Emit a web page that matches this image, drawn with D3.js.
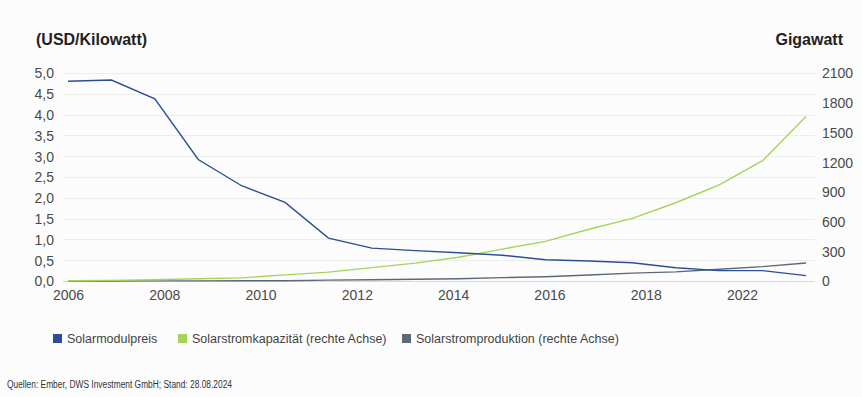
<!DOCTYPE html>
<html>
<head>
<meta charset="utf-8">
<script src="https://cdn.jsdelivr.net/npm/d3@7"></script>
<style>
  body { margin: 0; background: #fcfcfc; }
  svg { display: block; font-family: 'Liberation Sans', Arial, sans-serif; }
  .tick text { fill: #4a4a4a; }
</style>
</head>
<body>
<div id="chart"></div>
<script>
// data, one point per year 2006..2023
var years = d3.range(2006, 2024);
var modulPrice = [4.80, 4.83, 4.38, 2.92, 2.29, 1.89, 1.03, 0.79, 0.73, 0.68, 0.62, 0.51, 0.48, 0.44, 0.32, 0.25, 0.25, 0.13];
var capacity = [3, 6, 13, 22, 32, 62, 90, 135, 180, 240, 322, 400, 522, 632, 790, 970, 1215, 1660];
var production = [0, 0, 1, 1, 2, 3, 9, 12, 18, 23, 34, 43, 61, 80, 92, 118, 145, 182];

// axis labels as printed on the chart
var xTickLabels = ['2006', '2008', '2010', '2012', '2014', '2016', '2018', '2022'];
var leftTicks = d3.range(0, 5.01, 0.5);
var rightTicks = d3.range(0, 2101, 300);

var seriesNames = ['Solarmodulpreis', 'Solarstromkapazität (rechte Achse)', 'Solarstromproduktion (rechte Achse)'];
var colors = ['#2b4f97', '#a6d45a', '#5c6a78'];

var svgWidth = 862;
var svgHeight = 397;

var svg = d3.select('#chart')
    .append('svg')
    .attr('width', svgWidth)
    .attr('height', svgHeight);

// plot area
var plotLeft = 68, plotRight = 806, plotTop = 73, plotBottom = 281;

var xScale = d3.scaleLinear().domain([0, years.length - 1]).range([plotLeft, plotRight]);
var xLabelScale = d3.scalePoint().domain(xTickLabels).range([plotLeft, 742]);
var yLeft = d3.scaleLinear().domain([0, 5]).range([plotBottom, plotTop]);
var yRight = d3.scaleLinear().domain([0, 2100]).range([plotBottom, plotTop]);

// gridlines
svg.append('g')
    .selectAll('line')
    .data(leftTicks)
    .enter()
    .append('line')
    .attr('x1', 63)
    .attr('x2', 815)
    .attr('y1', d => Math.round(yLeft(d)) + 0.5)
    .attr('y2', d => Math.round(yLeft(d)) + 0.5)
    .attr('stroke', d => d === 0 ? '#d9d9d9' : '#ececec')
    .attr('stroke-width', 1);

// left axis
var leftAxis = d3.axisLeft(yLeft)
    .tickValues(leftTicks)
    .tickSize(0)
    .tickPadding(0)
    .tickFormat(d => d3.format('.1f')(d).replace('.', ','));
svg.append('g')
    .attr('transform', 'translate(54,0)')
    .call(leftAxis)
    .call(g => g.select('.domain').remove())
    .selectAll('text')
    .attr('font-size', '14px')
    .attr('dy', '0.35em');

// right axis
var rightAxis = d3.axisRight(yRight)
    .tickValues(rightTicks)
    .tickSize(0)
    .tickPadding(0)
    .tickFormat(d3.format('d'));
svg.append('g')
    .attr('transform', 'translate(822,0)')
    .call(rightAxis)
    .call(g => g.select('.domain').remove())
    .selectAll('text')
    .attr('font-size', '14px')
    .attr('dy', '0.35em');

// bottom axis
var bottomAxis = d3.axisBottom(xLabelScale).tickSize(0).tickPadding(0);
svg.append('g')
    .attr('transform', 'translate(0,' + (plotBottom + 9) + ')')
    .call(bottomAxis)
    .call(g => g.select('.domain').remove())
    .selectAll('text')
    .attr('font-size', '14px')
    .attr('dy', '0.71em');

// lines
var lineLeft = d3.line().x((d, i) => xScale(i)).y(d => yLeft(d));
var lineRight = d3.line().x((d, i) => xScale(i)).y(d => yRight(d));

svg.append('path')
    .datum(production)
    .attr('d', lineRight)
    .attr('fill', 'none')
    .attr('stroke', colors[2])
    .attr('stroke-width', 1.4);

svg.append('path')
    .datum(capacity)
    .attr('d', lineRight)
    .attr('fill', 'none')
    .attr('stroke', colors[1])
    .attr('stroke-width', 1.4);

svg.append('path')
    .datum(modulPrice)
    .attr('d', lineLeft)
    .attr('fill', 'none')
    .attr('stroke', colors[0])
    .attr('stroke-width', 1.4);

// axis titles
svg.append('text')
    .attr('x', 36)
    .attr('y', 45)
    .attr('font-size', '16px')
    .attr('font-weight', 'bold')
    .attr('fill', '#222')
    .text('(USD/Kilowatt)');

svg.append('text')
    .attr('x', 843)
    .attr('y', 45)
    .attr('text-anchor', 'end')
    .attr('font-size', '16px')
    .attr('font-weight', 'bold')
    .attr('fill', '#222')
    .text('Gigawatt');

// legend
var legendX = [53, 178, 402];
var legend = svg.append('g')
    .selectAll('g')
    .data(seriesNames)
    .enter()
    .append('g')
    .attr('transform', (d, i) => 'translate(' + legendX[i] + ',334)');

legend.append('rect')
    .attr('width', 9)
    .attr('height', 9)
    .attr('fill', (d, i) => colors[i]);

legend.append('text')
    .attr('x', 14)
    .attr('y', 9)
    .attr('font-size', '12.5px')
    .attr('fill', '#444')
    .text(d => d);

// source
svg.append('text')
    .attr('x', 7)
    .attr('y', 388)
    .attr('font-size', '10px')
    .attr('textLength', 225)
    .attr('lengthAdjust', 'spacingAndGlyphs')
    .attr('fill', '#333')
    .text('Quellen: Ember, DWS Investment GmbH; Stand: 28.08.2024');
</script>
</body>
</html>
